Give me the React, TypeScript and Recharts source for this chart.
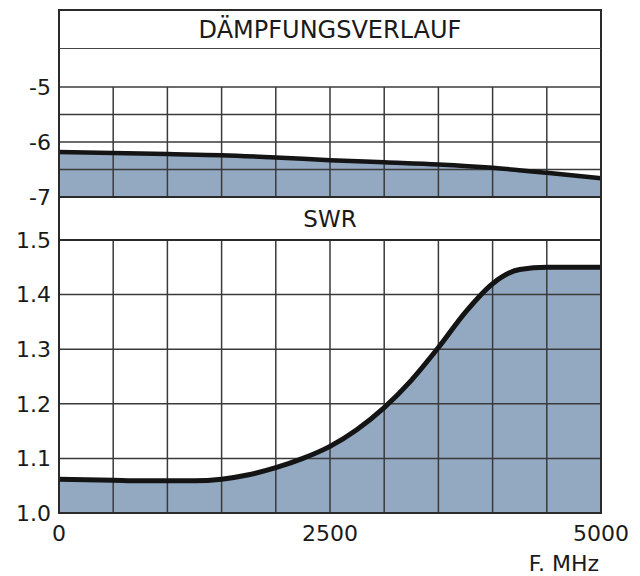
import { ComposedChart, Area, Line, XAxis, YAxis, ReferenceLine } from 'recharts';

// Dämpfungsverlauf (dB) over frequency
const ATT_FREQ = [0, 500, 1000, 1500, 2000, 2500, 3000, 3500, 4000, 4500, 5000];
const ATT_DB = [-6.18, -6.2, -6.22, -6.24, -6.28, -6.33, -6.37, -6.41, -6.47, -6.56, -6.66];

// SWR over frequency
const SWR_FREQ = [0, 250, 500, 750, 1000, 1250, 1500, 1750, 2000, 2250, 2500, 2750, 3000, 3250, 3500, 3750, 4000, 4250, 4500, 4750, 5000];
const SWR_VAL = [1.062, 1.061, 1.06, 1.059, 1.059, 1.059, 1.062, 1.07, 1.083, 1.1, 1.122, 1.153, 1.193, 1.243, 1.303, 1.368, 1.42, 1.446, 1.45, 1.45, 1.45];

const X_GRID = [0, 500, 1000, 1500, 2000, 2500, 3000, 3500, 4000, 4500, 5000];
const X_LABELS = [0, 2500, 5000];
const ATT_GRID = [-7, -6.5, -6, -5.5, -5];
const ATT_LABELS = [-7, -6, -5];
const SWR_GRID = [1.0, 1.1, 1.2, 1.3, 1.4, 1.5];

const attData = ATT_FREQ.map((f, i) => ({ f, v: ATT_DB[i] }));
const swrData = SWR_FREQ.map((f, i) => ({ f, v: SWR_VAL[i] }));

const FONT = '"DejaVu Sans", sans-serif';
const FILL = '#93a8c1';
const GRID = '#3a3a3a';
const tick = { fill: '#1a1a1a', fontSize: 22, fontFamily: FONT };

export default function App() {
  return (
    <div style={{ position: 'absolute', left: 0, top: 0, width: 640, height: 576, background: '#fff', fontFamily: FONT }}>
      <div style={{ position: 'absolute', left: 0, top: 72 }}>
        <ComposedChart width={640} height={140} data={attData} margin={{ top: 15, right: 39, bottom: 15, left: 0 }}>
          <XAxis dataKey="f" type="number" domain={[0, 5000]} ticks={X_GRID} hide />
          <YAxis type="number" domain={[-7, -5]} ticks={ATT_GRID} width={59} axisLine={false} tickLine={false}
            tick={tick} tickFormatter={(v: number) => (ATT_LABELS.includes(v) ? String(v) : '')} />
          <Area dataKey="v" type="monotone" baseValue="dataMin" fill={FILL} fillOpacity={1} stroke="none" isAnimationActive={false} />
          {X_GRID.map(x => <ReferenceLine key={'x' + x} x={x} stroke={GRID} strokeWidth={1.5} />)}
          {ATT_GRID.map(y => <ReferenceLine key={'y' + y} y={y} stroke={GRID} strokeWidth={1.5} />)}
          <Line dataKey="v" type="monotone" stroke="#141414" strokeWidth={4.5} dot={false} isAnimationActive={false} />
        </ComposedChart>
      </div>

      <div style={{ position: 'absolute', left: 0, top: 225 }}>
        <ComposedChart width={640} height={351} data={swrData} margin={{ top: 15, right: 39, bottom: 3, left: 0 }}>
          <XAxis dataKey="f" type="number" domain={[0, 5000]} ticks={X_GRID} height={60} axisLine={false} tickLine={false}
            tickMargin={6} tick={tick} interval={0}
            tickFormatter={(v: number) => (X_LABELS.includes(v) ? String(v) : '')}
            label={{ value: 'F. MHz', position: 'insideBottomRight', offset: 2, fill: '#1a1a1a', fontSize: 22, fontFamily: FONT }} />
          <YAxis type="number" domain={[1, 1.5]} ticks={SWR_GRID} width={59} axisLine={false} tickLine={false}
            tick={tick} tickFormatter={(v: number) => v.toFixed(1)} />
          <Area dataKey="v" type="monotone" baseValue="dataMin" fill={FILL} fillOpacity={1} stroke="none" isAnimationActive={false} />
          {X_GRID.map(x => <ReferenceLine key={'x' + x} x={x} stroke={GRID} strokeWidth={1.5} />)}
          {SWR_GRID.map(y => <ReferenceLine key={'y' + y} y={y} stroke={GRID} strokeWidth={1.5} />)}
          <Line dataKey="v" type="monotone" stroke="#141414" strokeWidth={5} dot={false} isAnimationActive={false} />
        </ComposedChart>
      </div>

      {/* frame and title rows */}
      <div style={{ position: 'absolute', left: 58, top: 9, width: 544, height: 505, boxSizing: 'border-box', border: '2px solid #2a2a2a', pointerEvents: 'none' }} />
      <div style={{ position: 'absolute', left: 59, top: 48, width: 542, height: 0, borderTop: '1.5px solid #444' }} />
      <div style={{ position: 'absolute', left: 59, top: 196, width: 542, height: 0, borderTop: '2px solid #2a2a2a' }} />
      <div style={{ position: 'absolute', left: 59, top: 239, width: 542, height: 0, borderTop: '2px solid #2a2a2a' }} />
      <div style={{ position: 'absolute', left: 59, top: 10, width: 542, height: 39, display: 'flex', alignItems: 'center', justifyContent: 'center', fontSize: 24, color: '#1a1a1a' }}>
        DÄMPFUNGSVERLAUF
      </div>
      <div style={{ position: 'absolute', left: 59, top: 197, width: 542, height: 43, display: 'flex', alignItems: 'center', justifyContent: 'center', fontSize: 23, color: '#1a1a1a' }}>
        SWR
      </div>
    </div>
  );
}
